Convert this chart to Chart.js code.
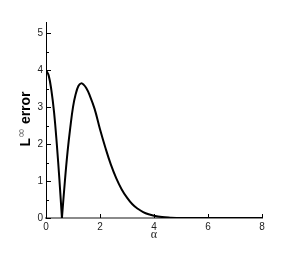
<!DOCTYPE html>
<html>
<head>
<meta charset="utf-8">
<script src="https://cdn.jsdelivr.net/npm/chart.js@4/dist/chart.umd.min.js"></script>
<style>
    body { margin: 0; background: #fff; }
    canvas { display: block; }
</style>
</head>
<body>
<canvas id="errChart" width="288" height="256"></canvas>
<script>
// 曲线数据
const alphaLeft = [0, 0.1, 0.2, 0.3, 0.4, 0.5, 0.59];
const errLeft = [4.0, 3.85, 3.45, 2.85, 2.0, 1.0, 0];

const alphaRight = [0.59, 0.7, 0.8, 0.9, 1.0, 1.1, 1.2, 1.3, 1.4, 1.5, 1.6, 1.8, 2.0, 2.2, 2.4, 2.6, 2.8, 3.0, 3.2, 3.4, 3.6, 3.8, 4.0, 4.3, 4.6, 5.0, 6, 7, 8];
const errRight = [0, 1.0, 1.8, 2.45, 3.0, 3.35, 3.57, 3.64, 3.6, 3.5, 3.35, 2.95, 2.4, 1.9, 1.45, 1.08, 0.78, 0.55, 0.37, 0.25, 0.16, 0.1, 0.06, 0.025, 0.01, 0, 0, 0, 0];

// 刻度
const xTicks = [0, 2, 4, 6, 8];
const yTicks = [0, 1, 2, 3, 4, 5];
const yMinorTicks = [0.5, 1.5, 2.5, 3.5, 4.5];

function toPoints(xs, ys) {
    return xs.map((x, i) => ({ x: x, y: ys[i] }));
}

// 画刻度线（朝内）和纵轴标题
const tickPlugin = {
    id: 'innerTicks',
    afterDraw(chart) {
        const ctx = chart.ctx;
        const xs = chart.scales.x;
        const ys = chart.scales.y;
        const left = chart.chartArea.left;
        const bottom = chart.chartArea.bottom;
        ctx.save();
        ctx.strokeStyle = '#000';
        ctx.lineWidth = 1;
        ctx.beginPath();
        yTicks.forEach(v => {
            const py = Math.round(ys.getPixelForValue(v)) + 0.5;
            ctx.moveTo(left, py);
            ctx.lineTo(left + 5, py);
        });
        yMinorTicks.forEach(v => {
            const py = Math.round(ys.getPixelForValue(v)) + 0.5;
            ctx.moveTo(left, py);
            ctx.lineTo(left + 3, py);
        });
        xTicks.slice(1).forEach(v => {
            const px = Math.round(xs.getPixelForValue(v)) + 0.5;
            ctx.moveTo(px, bottom);
            ctx.lineTo(px, bottom - 4);
        });
        ctx.stroke();

        // 纵轴标题 L∞ error
        ctx.translate(25, 119);
        ctx.rotate(-Math.PI / 2);
        ctx.fillStyle = '#000';
        ctx.textBaseline = 'alphabetic';
        const big = 'bold 14px "Liberation Sans", Arial, sans-serif';
        const small = '12px "DejaVu Sans", sans-serif';
        ctx.font = big;
        const wL = ctx.measureText('L').width;
        const wE = ctx.measureText(' error').width;
        ctx.font = small;
        const wI = ctx.measureText('∞').width;
        let x0 = -(wL + wI + wE) / 2;
        ctx.font = big;
        ctx.fillText('L', x0, 5);
        ctx.font = small;
        ctx.fillStyle = '#777';
        ctx.fillText('∞', x0 + wL, 0);
        ctx.font = big;
        ctx.fillStyle = '#000';
        ctx.fillText(' error', x0 + wL + wI, 5);
        ctx.restore();
    }
};

const lineStyle = {
    showLine: true,
    borderColor: '#000',
    borderWidth: 2,
    pointRadius: 0,
    tension: 0.4,
    fill: false
};

const ctx = document.getElementById('errChart').getContext('2d');
const errChart = new Chart(ctx, {
    type: 'scatter',
    data: {
        datasets: [
            Object.assign({ data: toPoints(alphaLeft, errLeft) }, lineStyle),
            Object.assign({ data: toPoints(alphaRight, errRight) }, lineStyle)
        ]
    },
    options: {
        responsive: false,
        animation: false,
        layout: {
            padding: { top: 22, right: 26, left: 0, bottom: 0 }
        },
        plugins: {
            legend: { display: false },
            tooltip: { enabled: false }
        },
        scales: {
            x: {
                type: 'linear',
                min: 0,
                max: 8,
                afterBuildTicks: s => { s.ticks = xTicks.map(v => ({ value: v })); },
                afterFit: s => { s.height = 38; },
                grid: { display: false, drawTicks: false },
                border: { color: '#8a8a8a', width: 2 },
                ticks: {
                    color: '#222',
                    padding: 3,
                    maxRotation: 0,
                    font: { family: '"Liberation Sans", Arial, sans-serif', size: 10 }
                },
                title: {
                    display: true,
                    text: 'α',
                    color: '#222',
                    padding: { top: 0, bottom: 14 },
                    font: { family: '"Liberation Serif", serif', size: 12 }
                }
            },
            y: {
                type: 'linear',
                min: 0,
                max: 5.3,
                afterBuildTicks: s => { s.ticks = yTicks.map(v => ({ value: v })); },
                afterFit: s => { s.width = 46; },
                grid: { display: false, drawTicks: false },
                border: { color: '#000', width: 1 },
                ticks: {
                    color: '#222',
                    padding: 3,
                    font: { family: '"Liberation Sans", Arial, sans-serif', size: 10 }
                }
            }
        }
    },
    plugins: [tickPlugin]
});
</script>
</body>
</html>
